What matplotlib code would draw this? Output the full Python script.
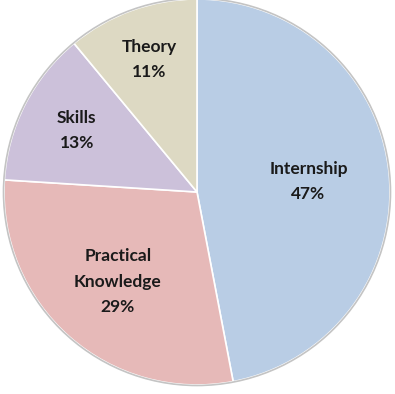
import matplotlib
matplotlib.use("Agg")
import matplotlib.pyplot as plt
from matplotlib.patches import Circle
import numpy as np

labels = ["Internship", "Practical\nKnowledge", "Skills", "Theory"]
values = [47, 29, 13, 11]
colors = ["#B9CDE5", "#E6B9B8", "#CCC1DA", "#DDD9C3"]
label_dist = [0.58, 0.62, 0.70, 0.73]

W, H = 395, 394
fig = plt.figure(figsize=(W / 100, H / 100), dpi=100)
ax = fig.add_axes([0, 0, 1, 1])
R = 193
cx_px, cy_px = 197, 192

wedges, texts = ax.pie(values, colors=colors, startangle=90, counterclock=False,
                       radius=R, center=(0, 0),
                       wedgeprops=dict(edgecolor="white", linewidth=1.2))
ax.add_patch(Circle((0, 0), R + 0.5, fill=False, edgecolor="#c4c4c4", linewidth=1.2, zorder=5))

for w, lab, v, d in zip(wedges, labels, values, label_dist):
    ang = np.deg2rad((w.theta1 + w.theta2) / 2)
    x, y = d * R * np.cos(ang), d * R * np.sin(ang)
    ax.text(x, y, f"{lab}\n{v}%", ha="center", va="center", fontsize=12.5,
            fontweight="bold", family="Lato", color="#1a1a1a", linespacing=1.72)

ax.set_xlim(-cx_px, W - cx_px)
ax.set_ylim(-(H - cy_px), cy_px)
ax.set_aspect("equal")
ax.axis("off")
fig.savefig("out.png", dpi=100, facecolor="white")
